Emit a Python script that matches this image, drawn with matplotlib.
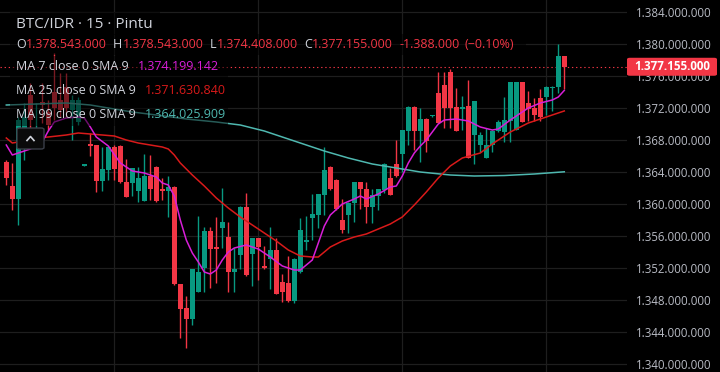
import matplotlib
matplotlib.use("Agg")
import matplotlib.pyplot as plt
from matplotlib.patches import FancyBboxPatch, Rectangle
from matplotlib.lines import Line2D
import numpy as np

plt.rcParams['font.family'] = ['Open Sans', 'DejaVu Sans']

# BTC/IDR 15m candles, prices in millions of IDR
opens = [1365.25, 1362.25, 1360.625, 1369.5, 1373.625, 1368.375, 1372.75, 1371.5, 1374.0, 1373.0,
         1374.625, 1371.75, 1370.25, 1364.8, 1367.5, 1367.375, 1362.875, 1364.25, 1367.125, 1367.25,
         1362.75, 1362.625, 1361.625, 1360.375, 1363.5, 1364.625, 1361.875, 1361.625, 1362.125, 1350.0,
         1347.0, 1345.625, 1349.0, 1352.0, 1356.625, 1354.625, 1357.0, 1355.875, 1351.5, 1353.625,
         1359.625, 1353.75, 1355.75, 1352.25, 1353.125, 1354.25, 1350.25, 1350.125, 1347.875, 1351.5,
         1355.25, 1358.25, 1358.625, 1361.125, 1364.625, 1363.0, 1358.0, 1358.625, 1360.125, 1362.75,
         1361.875, 1359.625, 1361.0, 1361.75, 1363.25, 1365.0, 1366.25, 1369.125, 1372.125, 1369.125,
         1370.625, 1370.94, 1373.875, 1374.875, 1376.5, 1372.125, 1371.875, 1372.25, 1368.625, 1367.375,
         1365.75, 1367.375, 1369.125, 1369.0, 1370.375, 1369.25, 1375.25, 1372.625, 1372.0, 1373.25,
         1373.375, 1374.5, 1374.625, 1378.543]
highs = [1365.5, 1365.125, 1370.875, 1372.625, 1375.125, 1372.625, 1375.125, 1373.0, 1378.875, 1376.375,
         1376.375, 1373.625, 1373.375, 1364.9, 1368.875, 1367.375, 1367.125, 1367.125, 1367.375, 1367.4,
         1365.625, 1364.5, 1364.625, 1366.25, 1366.125, 1364.7, 1363.25, 1363.5, 1362.2, 1350.0,
         1348.5, 1351.9, 1358.5, 1357.125, 1357.125, 1358.375, 1362.0, 1357.75, 1354.5, 1359.7,
         1361.375, 1355.8, 1355.8, 1354.75, 1357.125, 1355.75, 1351.25, 1353.5, 1353.2, 1358.25,
         1358.5, 1361.25, 1361.3, 1367.125, 1364.7, 1363.1, 1360.625, 1360.2, 1362.8, 1362.8,
         1362.75, 1361.875, 1361.9, 1365.1, 1364.5, 1368.0, 1369.3, 1372.2, 1372.2, 1372.0,
         1370.7, 1371.1, 1376.5, 1376.5, 1376.875, 1374.5, 1373.5, 1375.5, 1372.9, 1369.0,
         1369.5, 1369.2, 1370.5, 1373.375, 1375.3, 1375.3, 1375.3, 1374.125, 1373.25, 1374.375,
         1374.7, 1374.7, 1380.0, 1378.543]
lows = [1362.375, 1359.25, 1357.375, 1365.5, 1368.0, 1368.0, 1370.125, 1369.25, 1370.5, 1370.875,
        1370.875, 1368.0, 1369.875, 1364.8, 1366.0, 1361.5, 1361.625, 1363.0, 1363.0, 1362.6,
        1360.875, 1361.0, 1360.25, 1360.375, 1360.5, 1360.3, 1360.5, 1358.375, 1349.9, 1343.25,
        1342.0, 1344.875, 1349.0, 1349.0, 1349.5, 1350.125, 1354.5, 1349.0, 1349.0, 1351.875,
        1351.0, 1349.75, 1350.5, 1351.875, 1349.375, 1348.7, 1347.75, 1347.8, 1347.625, 1351.4,
        1354.25, 1355.5, 1357.0, 1358.625, 1361.8, 1359.3, 1356.375, 1356.375, 1357.75, 1359.375,
        1357.625, 1357.625, 1359.25, 1361.375, 1361.1, 1363.4, 1364.0, 1367.375, 1366.75, 1365.25,
        1366.5, 1370.9, 1370.1, 1369.5, 1369.5, 1369.1, 1369.25, 1365.7, 1365.0, 1366.5,
        1365.7, 1366.5, 1369.0, 1367.75, 1367.75, 1369.2, 1370.2, 1370.375, 1370.375, 1370.375,
        1371.125, 1371.625, 1373.875, 1374.408]
closes = [1363.25, 1360.625, 1370.5, 1370.875, 1370.5, 1369.5, 1372.375, 1369.875, 1372.0, 1371.75,
          1372.0, 1373.0, 1373.0, 1364.9, 1367.25, 1362.875, 1364.375, 1367.125, 1364.375, 1362.75,
          1360.875, 1364.5, 1363.25, 1363.5, 1361.875, 1360.375, 1361.625, 1362.125, 1350.0, 1346.875,
          1345.625, 1351.875, 1351.5, 1356.625, 1354.375, 1354.375, 1357.75, 1351.5, 1351.875, 1359.625,
          1351.125, 1355.75, 1354.625, 1352.0, 1354.25, 1348.75, 1349.0, 1347.875, 1353.125, 1356.75,
          1355.5, 1358.75, 1361.25, 1364.25, 1361.875, 1359.375, 1356.75, 1360.125, 1362.75, 1361.875,
          1359.625, 1361.125, 1361.875, 1365.0, 1361.125, 1363.5, 1369.25, 1372.125, 1369.125, 1370.625,
          1367.875, 1371.06, 1370.125, 1372.0, 1372.0, 1369.125, 1372.125, 1365.75, 1372.875, 1368.625,
          1367.375, 1369.125, 1370.25, 1370.5, 1375.25, 1375.25, 1370.25, 1371.875, 1371.125, 1370.875,
          1374.625, 1374.625, 1378.543, 1377.155]

# moving averages (candle index, value)
ma7_idx = [0, 1, 2, 4, 6, 7, 8, 10, 12, 13, 14, 15, 17, 19, 21, 23, 25, 26, 27, 28, 29, 30, 31, 32, 33,
           34, 35, 36, 37, 38, 40, 42, 44, 46, 48, 49, 51, 52, 53, 54, 56, 58, 59, 60, 62, 64, 65, 66,
           67, 68, 69, 70, 71, 72, 73, 75, 77, 79, 81, 82, 84, 86, 87, 89, 91, 92, 93]
ma7_val = [1367.375, 1366.125, 1366.375, 1366.875, 1367.75, 1369.125, 1370.25, 1370.75, 1370.875,
           1370.75, 1369.625, 1368.375, 1367.25, 1365.125, 1364.125, 1363.875, 1363.375, 1362.625,
           1362.375, 1361.0, 1358.0, 1355.5, 1353.875, 1352.75, 1351.5, 1351.25, 1351.75, 1353.0,
           1354.0, 1354.5, 1354.875, 1354.375, 1353.375, 1352.25, 1351.75, 1351.75, 1353.0, 1355.125,
           1357.25, 1358.625, 1360.0, 1360.625, 1361.0, 1360.625, 1361.25, 1362.125, 1362.25, 1363.5,
           1365.125, 1366.375, 1367.25, 1368.0, 1369.0, 1370.0, 1370.5, 1370.625, 1370.375, 1369.625,
           1369.25, 1369.375, 1370.5, 1371.5, 1372.0, 1372.625, 1373.0, 1373.375, 1374.199142]
ma25_idx = [0, 1, 3, 5, 7, 10, 12, 14, 16, 18, 20, 22, 24, 26, 27, 28, 29, 31, 33, 35, 37, 39, 41, 43,
            45, 47, 49, 51, 52, 54, 56, 58, 60, 62, 64, 66, 68, 70, 72, 74, 76, 79, 81, 84, 87, 90, 93]
ma25_val = [1368.25, 1367.625, 1367.875, 1368.25, 1368.375, 1368.625, 1368.875, 1368.75, 1368.625,
            1368.5, 1368.0, 1367.625, 1367.375, 1367.125, 1366.875, 1366.125, 1365.125, 1363.625,
            1362.25, 1360.75, 1359.5, 1358.375, 1357.375, 1356.375, 1355.375, 1354.25, 1353.5,
            1353.375, 1353.375, 1354.625, 1355.375, 1355.875, 1356.25, 1356.875, 1357.5, 1358.375,
            1359.875, 1361.5, 1363.25, 1364.75, 1365.75, 1366.375, 1367.5, 1369.0, 1370.125,
            1370.875, 1371.63084]
ma99_idx = [0, 5, 10, 14, 18, 21, 25, 30, 35, 39, 43, 47, 50, 53, 57, 61, 65, 69, 74, 78, 83, 88, 93]
ma99_val = [1372.375, 1372.5, 1372.625, 1372.375, 1371.875, 1371.5, 1371.125, 1370.625, 1370.25,
            1369.875, 1369.125, 1368.125, 1367.375, 1366.625, 1365.75, 1365.0, 1364.5, 1364.0,
            1363.625, 1363.5, 1363.56, 1363.75, 1364.025909]

price_ticks = [1340, 1344, 1348, 1352, 1356, 1360, 1364, 1368, 1372, 1376, 1380, 1384]
time_grid = [18, 42, 66, 90]

UP = '#089981'
DOWN = '#f23645'
TXT = '#d1d4dc'
MA7_C = '#d81ed8'
MA25_C = '#d91a1a'
MA99_C = '#4fb8b0'


def idr(v):
    return f"{round(v * 1e6):,d}".replace(",", ".")


W, H = 720, 372
fig = plt.figure(figsize=(W / 100, H / 100), dpi=100, facecolor='#000000')
ax = fig.add_axes([0, 0, 627 / W, 1], facecolor='#000000')

idx = np.arange(len(closes))
o = np.array(opens); c = np.array(closes)
cols = [UP if cc >= oo else DOWN for oo, cc in zip(o, c)]
ax.vlines(idx, lows, highs, colors=cols, lw=1.0, zorder=2)
bottoms = np.minimum(o, c)
heights = np.maximum(np.abs(c - o), 0.14)
ax.bar(idx, heights, bottom=bottoms, width=0.76, color=cols, lw=0, zorder=3)

ax.plot(ma99_idx, ma99_val, color=MA99_C, lw=1.1, zorder=4)
ax.plot(ma25_idx, ma25_val, color=MA25_C, lw=1.1, zorder=4)
ax.plot(ma7_idx, ma7_val, color=MA7_C, lw=1.1, zorder=5)

last = closes[-1]
ax.axhline(last, color=DOWN, lw=0.8, ls=(0, (1.2, 2.5)), zorder=1)

ax.set_xlim(-1.05, 103.45)
ax.set_ylim(1339.0, 1385.5)
for s in ax.spines.values():
    s.set_visible(False)
ax.set_xticks(time_grid)
ax.tick_params(axis='x', length=0, labelbottom=False)
ax.yaxis.tick_right()
ax.set_yticks(price_ticks)
ax.set_yticklabels([idr(t) for t in price_ticks])
ax.tick_params(axis='y', length=0, pad=6.5, labelcolor='#b8bbc4', labelsize=8.3)
ax.grid(color='#1e1e1e', lw=0.9, zorder=0)
ax.set_axisbelow(True)

fig.canvas.draw()
rend = fig.canvas.get_renderer()

# legend row backdrops (dim the candles under the legend)
for (x0, y0, x1, y1) in [(10, 12, 160, 35), (10, 34, 526, 55), (10, 56, 228, 126)]:
    fig.add_artist(Rectangle((x0 / W, 1 - y1 / H), (x1 - x0) / W, (y1 - y0) / H,
                             transform=fig.transFigure, facecolor='#000000', alpha=0.5,
                             lw=0, zorder=1))


def row(y, parts, size=9):
    x = 16
    for txt, col, gap in parts:
        t = fig.text(x / W, 1 - y / H, txt, color=col, fontsize=size, ha='left', va='center',
                     zorder=3)
        bb = t.get_window_extent(rend)
        x = bb.x1 + gap


chg = opens[-1] - last
row(24, [("BTC/IDR · 15 · Pintu", TXT, 0)], size=11)
row(44, [("O", TXT, 0.5), (idr(opens[-1]), DOWN, 6), ("H", TXT, 0.5), (idr(highs[-1]), DOWN, 6),
         ("L", TXT, 0.5), (idr(lows[-1]), DOWN, 6), ("C", TXT, 0.5), (idr(last), DOWN, 6),
         ("-" + idr(chg), DOWN, 5),
         ("(−{:.2f}%)".format(chg / opens[-1] * 100), DOWN, 0)])
row(66.5, [("MA 7 close 0 SMA 9", TXT, 9), (idr(ma7_val[-1]), MA7_C, 0)])
row(90, [("MA 25 close 0 SMA 9", TXT, 9), (idr(ma25_val[-1]), MA25_C, 0)])
row(115, [("MA 99 close 0 SMA 9", TXT, 9), (idr(ma99_val[-1]), MA99_C, 0)])

# collapse button
fig.add_artist(FancyBboxPatch((17 / W, 1 - 149 / H), 27 / W, 21 / H,
                              boxstyle="round,pad=0,rounding_size=0.004",
                              transform=fig.transFigure, facecolor='#0a0a0a',
                              edgecolor='#3a3e48', lw=1, zorder=3))
fig.add_artist(Line2D([27 / W, 30.5 / W, 34 / W], [1 - 140.5 / H, 1 - 136.5 / H, 1 - 140.5 / H],
                      transform=fig.transFigure, color=TXT, lw=1.2, zorder=4))

# last price label on the scale
yd = ax.transData.transform((0, last))[1]
fig.add_artist(FancyBboxPatch((627 / W, (yd - 9) / H), 90 / W, 18 / H,
                              boxstyle="round,pad=0,rounding_size=0.004",
                              transform=fig.transFigure, facecolor=DOWN, lw=0, zorder=5))
fig.text(672 / W, yd / H, idr(last), color='white', fontsize=8.4, fontweight='bold',
         ha='center', va='center', zorder=6)

fig.savefig('out.png', dpi=100, facecolor='#000000')
